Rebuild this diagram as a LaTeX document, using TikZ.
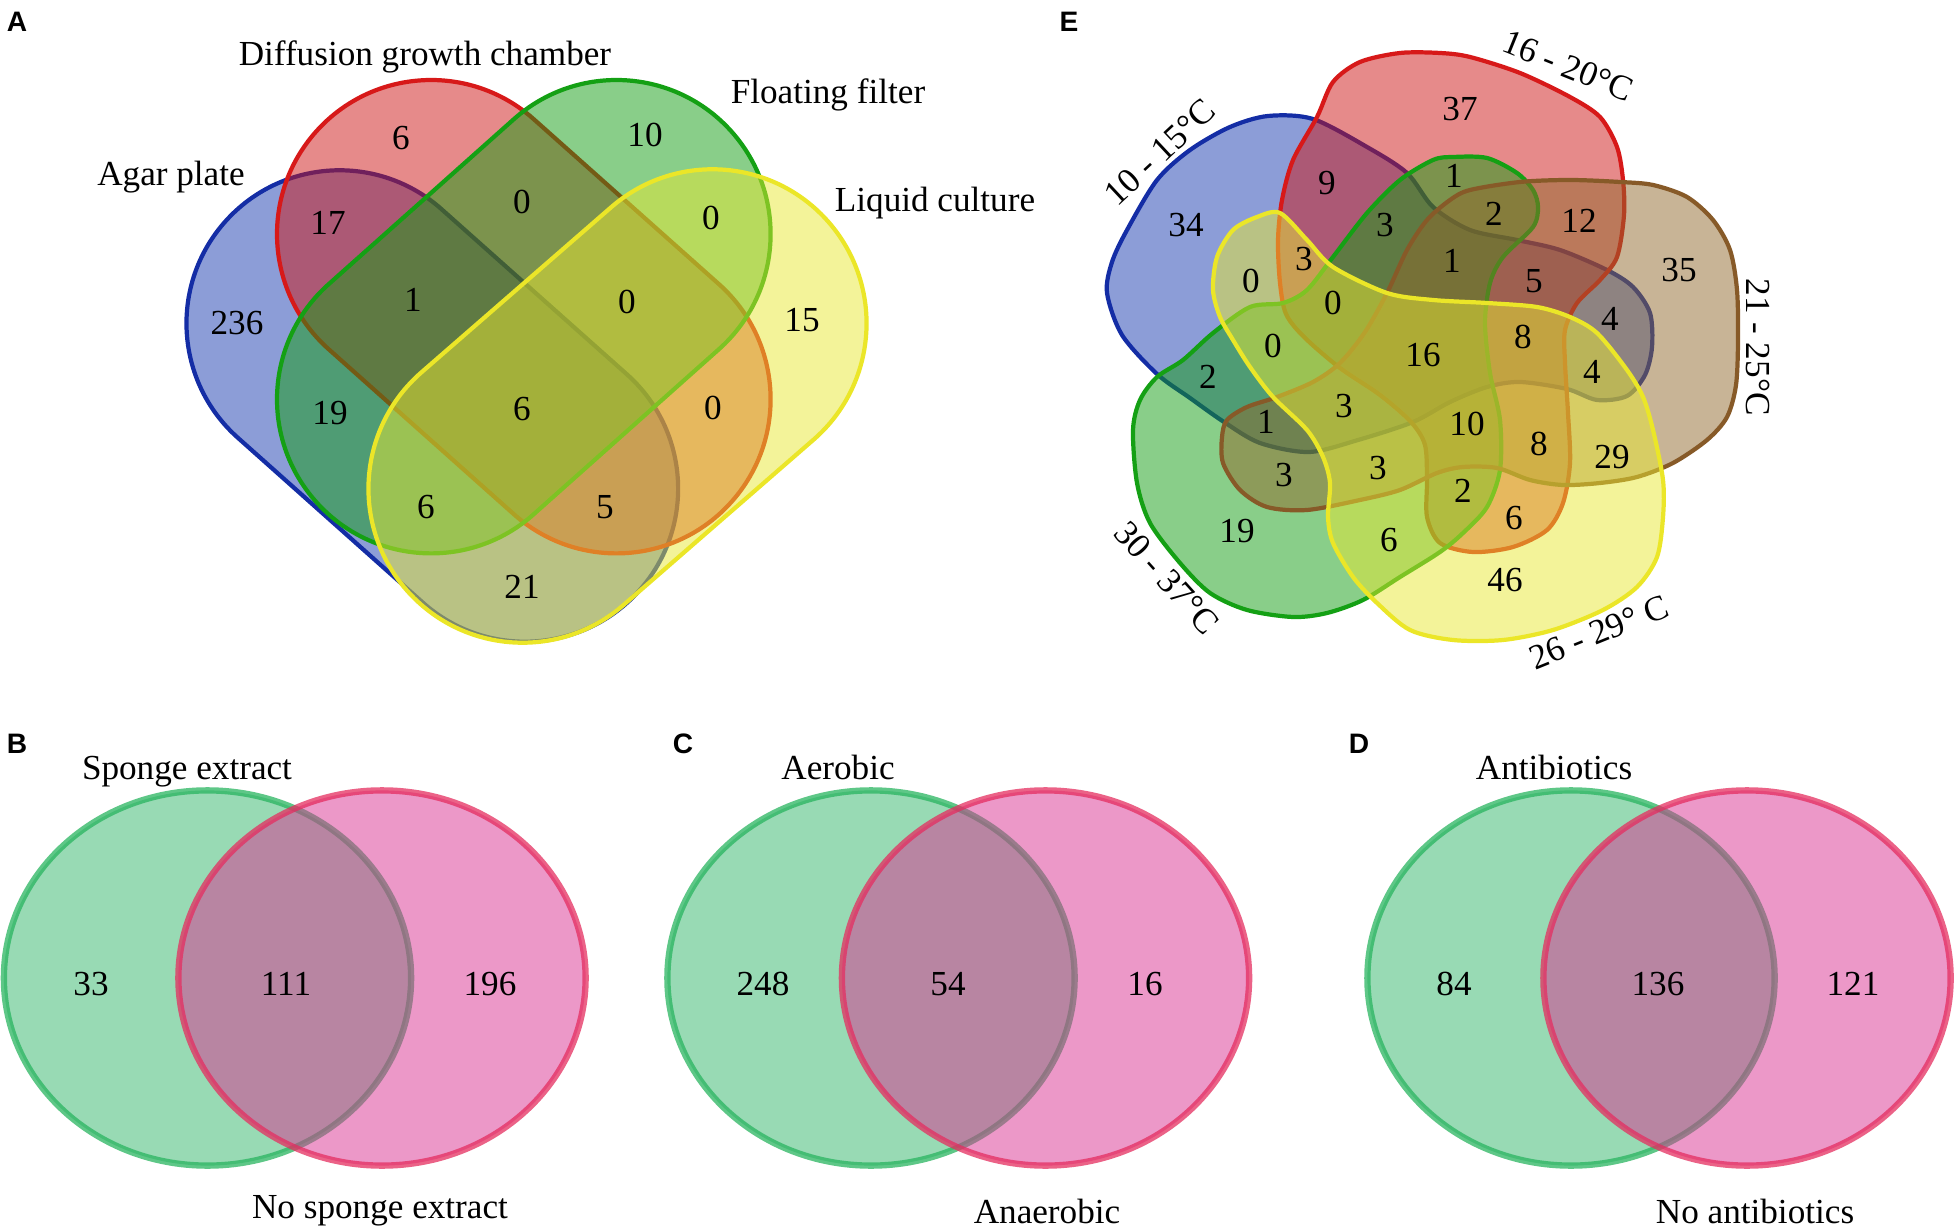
\documentclass[tikz,border=0pt]{standalone}
\usepackage{fontspec}
\setmainfont{Liberation Serif}
\newfontfamily\panelsans{Liberation Sans}
\usetikzlibrary{shapes.misc,shapes.geometric}

\definecolor{setBlue}{RGB}{25,60,175}
\definecolor{setRed}{RGB}{205,21,21}
\definecolor{setGreen}{RGB}{19,157,19}
\definecolor{setYellow}{RGB}{231,231,51}
\definecolor{setBrown}{RGB}{145,105,45}
\definecolor{edgeBlue}{RGB}{20,45,165}
\definecolor{edgeRed}{RGB}{215,25,25}
\definecolor{edgeGreen}{RGB}{20,160,20}
\definecolor{edgeYellow}{RGB}{235,230,40}
\definecolor{edgeBrown}{RGB}{135,90,40}
\definecolor{ringGreen}{RGB}{49,181,105}
\definecolor{ringPink}{RGB}{217,49,145}
\definecolor{ringGreenEdge}{RGB}{40,180,95}
\definecolor{ringPinkEdge}{RGB}{228,45,95}

\tikzset{
    capsule/.style={
        rounded rectangle,
        inner sep=0pt, outer sep=0pt,
        minimum height=3.08cm,
        line width=1.2pt,
        fill opacity=0.5
    },
    blob/.style={line width=1.2pt, fill opacity=0.5},
    ring/.style={
        ellipse,
        inner sep=0pt, outer sep=0pt,
        minimum width=4.07cm, minimum height=3.75cm,
        line width=1.8pt,
        fill opacity=0.5, draw opacity=0.75
    },
    num/.style={font=\fontsize{10}{12}\selectfont, inner sep=0pt},
    setname/.style={font=\fontsize{10}{12}\selectfont, inner sep=0pt},
    panel/.style={font=\panelsans\bfseries\fontsize{8}{10}\selectfont, inner sep=0pt}
}

\begin{document}
\begin{tikzpicture}[x=0.01cm, y=-0.01cm]
\useasboundingbox (0,0) rectangle (1955,1231);

% panel A
\node[capsule, draw=edgeBlue, fill=setBlue, minimum height=3.06cm, minimum width=5.543cm, rotate=-41.7] (agar) at (432.3,406) {};
\node[capsule, draw=edgeRed, fill=setRed, minimum width=5.562cm, rotate=-41.7] (diff) at (523.8,316.7) {};
\node[capsule, draw=edgeGreen, fill=setGreen, minimum width=5.562cm, rotate=41.7] (float) at (523.8,316.7) {};
\node[capsule, draw=edgeYellow, fill=setYellow, minimum width=5.596cm, rotate=41.03] (liquid) at (617.5,406) {};

\node[panel] (lblA) at (17,22) {A};
\node[setname] (agarLbl) at (171,177) {Agar plate};
\node[setname] (diffLbl) at (425,57) {Diffusion growth chamber};
\node[setname] (floatLbl) at (828,95) {Floating filter};
\node[setname] (liquidLbl) at (935,203) {Liquid culture};

\node[num] (aD) at (401,138) {6};
\node[num] (aF) at (645,135) {10};
\node[num] (aPD) at (328,223) {17};
\node[num] (aDF) at (522,202) {0};
\node[num] (aFL) at (711,218) {0};
\node[num] (aP) at (237,323) {236};
\node[num] (aPDF) at (413,300) {1};
\node[num] (aDFL) at (627,302) {0};
\node[num] (aL) at (802,320) {15};
\node[num] (aPF) at (330,413) {19};
\node[num] (aPDFL) at (522,409) {6};
\node[num] (aDL) at (713,408) {0};
\node[num] (aPFL) at (426,507) {6};
\node[num] (aPDL) at (605,507) {5};
\node[num] (aPL) at (522,587) {21};

% panel E
\draw[blob, draw=edgeBlue, fill=setBlue] plot[smooth cycle] coordinates {
    (1268,116) (1313,119) (1367,147) (1407,173) (1433,207) (1470,230) (1517,240)
    (1560,250) (1607,270) (1633,287) (1650,313) (1652,347) (1645,375) (1627,396)
    (1597,400) (1567,389) (1520,382) (1487,387) (1450,402) (1413,422) (1358,440)
    (1309,452) (1260,443) (1224,422) (1190,398) (1157,374) (1122,335) (1107,293)
    (1112,262) (1127,230) (1157,180) (1190,150) (1230,127)};
\draw[blob, draw=edgeRed, fill=setRed] plot[smooth cycle] coordinates {
    (1317,117) (1333,82) (1360,62) (1400,53) (1440,53) (1470,57) (1520,73)
    (1570,97) (1600,117) (1617,147) (1623,180) (1624,215) (1617,257) (1600,280)
    (1577,303) (1565,330) (1565,363) (1568,413) (1570,463) (1563,503) (1547,530)
    (1513,547) (1473,552) (1440,543) (1427,517) (1427,480) (1425,445) (1411,422)
    (1380,395) (1340,368) (1304,337) (1286,314) (1280,283) (1278,240) (1282,200)
    (1293,160)};
\draw[blob, draw=edgeGreen, fill=setGreen] plot[smooth cycle] coordinates {
    (1157,377) (1183,360) (1213,333) (1250,307) (1283,303) (1307,290) (1333,257)
    (1367,213) (1400,180) (1433,160) (1453,157) (1487,158) (1517,173) (1533,190)
    (1538,207) (1533,227) (1503,257) (1490,283) (1485,323) (1490,373) (1500,420)
    (1500,470) (1487,507) (1463,533) (1440,552) (1400,577) (1363,600) (1327,613)
    (1293,617) (1247,610) (1210,593) (1180,563) (1150,523) (1137,483) (1133,430)
    (1140,400)};
\draw[blob, draw=edgeBrown, fill=setBrown] plot[smooth cycle] coordinates {
    (1427,220) (1450,200) (1470,190) (1520,182) (1570,180) (1620,182) (1653,185)
    (1687,197) (1713,220) (1730,250) (1737,290) (1738,340) (1736,385) (1727,417)
    (1707,440) (1673,463) (1637,477) (1600,483) (1563,485) (1530,480) (1497,468)
    (1463,467) (1437,473) (1400,490) (1360,500) (1307,510) (1267,507) (1240,490)
    (1223,463) (1222,437) (1227,420) (1247,407) (1277,397) (1313,382) (1340,363)
    (1365,332) (1387,293) (1407,250)};
\draw[blob, draw=edgeYellow, fill=setYellow] plot[smooth cycle] coordinates {
    (1280,213) (1307,240) (1333,267) (1387,293) (1433,300) (1487,303) (1537,307)
    (1570,317) (1597,333) (1627,370) (1643,397) (1653,430) (1663,480) (1663,517)
    (1657,557) (1637,587) (1603,610) (1553,630) (1503,640) (1453,640) (1410,630)
    (1377,603) (1353,577) (1333,543) (1328,517) (1330,483) (1323,457) (1307,430)
    (1273,397) (1250,367) (1233,340) (1220,317) (1213,290) (1217,257) (1233,230)
    (1257,217)};

\node[panel] (lblE) at (1069,22) {E};
\node[setname, rotate=43] (coldLbl) at (1160,152) {10 - 15°C};
\node[setname, rotate=-22] (coolLbl) at (1568,66) {16 - 20°C};
\node[setname, rotate=-90] (roomLbl) at (1758,347) {21 - 25°C};
\node[setname, rotate=22] (warmLbl) at (1599,632) {26 - 29° C};
\node[setname, rotate=-48] (hotLbl) at (1167,578) {30 - 37°C};

\node[num] (eB) at (1186,225) {34};
\node[num] (eR) at (1460,109) {37};
\node[num] (eN) at (1679,270) {35};
\node[num] (eY) at (1505,580) {46};
\node[num] (eG) at (1237,531) {19};
\node[num] (eBR) at (1327,183) {9};
\node[num] (eRG) at (1454,176) {1};
\node[num] (eRN) at (1579,221) {12};
\node[num] (eRGN) at (1494,214) {2};
\node[num] (eBRG) at (1385,225) {3};
\node[num] (eBRGN) at (1452,261) {1};
\node[num] (eBRN) at (1534,281) {5};
\node[num] (eBN) at (1610,319) {4};
\node[num] (eBRNY) at (1523,337) {8};
\node[num] (eBNY) at (1592,372) {4};
\node[num] (eNY) at (1612,457) {29};
\node[num] (eRNY) at (1539,444) {8};
\node[num] (eRY) at (1514,518) {6};
\node[num] (eRGNY) at (1467,424) {10};
\node[num] (eRGY) at (1463,491) {2};
\node[num] (eGY) at (1389,540) {6};
\node[num] (eGNY) at (1378,468) {3};
\node[num] (eGN) at (1284,475) {3};
\node[num] (eBGN) at (1266,422) {1};
\node[num] (eBG) at (1208,377) {2};
\node[num] (eBGY) at (1273,346) {0};
\node[num] (eBY) at (1251,281) {0};
\node[num] (eBRY) at (1304,259) {3};
\node[num] (eBRGY) at (1333,303) {0};
\node[num] (eAll) at (1423,355) {16};
\node[num] (eBGNY) at (1344,406) {3};

% panel B
\node[ring, draw=ringGreenEdge, fill=ringGreen] (spongeIn) at (207.5,978) {};
\node[ring, draw=ringPinkEdge, fill=ringPink] (spongeOut) at (382,978) {};
\node[panel] (lblB) at (17,744) {B};
\node[setname] (spongeInLbl) at (187,772) {Sponge extract};
\node[setname] (spongeOutLbl) at (380,1211) {No sponge extract};
\node[num] (bIn) at (91,984) {33};
\node[num] (bBoth) at (286,984) {111};
\node[num] (bOut) at (490,984) {196};

% panel C
\node[ring, draw=ringGreenEdge, fill=ringGreen] (aerobic) at (871,978) {};
\node[ring, draw=ringPinkEdge, fill=ringPink] (anaerobic) at (1045.5,978) {};
\node[panel] (lblC) at (683,744) {C};
\node[setname] (aerobicLbl) at (838,767) {Aerobic};
\node[setname] (anaerobicLbl) at (1047,1211) {Anaerobic};
\node[num] (cIn) at (763,984) {248};
\node[num] (cBoth) at (948,984) {54};
\node[num] (cOut) at (1145,984) {16};

% panel D
\node[ring, draw=ringGreenEdge, fill=ringGreen] (antib) at (1571,978) {};
\node[ring, draw=ringPinkEdge, fill=ringPink] (noAntib) at (1747,978) {};
\node[panel] (lblD) at (1359,744) {D};
\node[setname] (antibLbl) at (1554,767) {Antibiotics};
\node[setname] (noAntibLbl) at (1755,1211) {No antibiotics};
\node[num] (dIn) at (1454,984) {84};
\node[num] (dBoth) at (1658,984) {136};
\node[num] (dOut) at (1853,984) {121};
\end{tikzpicture}
\end{document}
